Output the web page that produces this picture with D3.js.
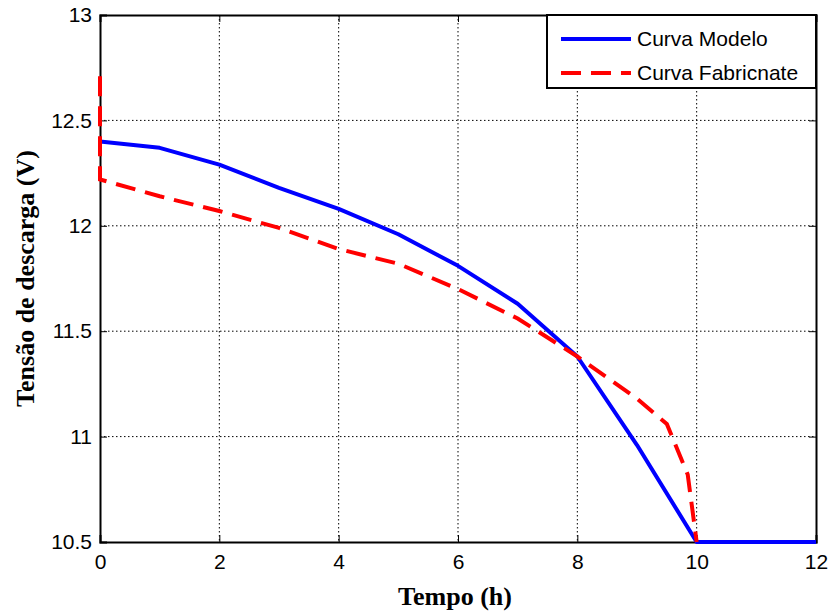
<!DOCTYPE html>
<html>
<head>
<meta charset="utf-8">
<script src="https://cdn.jsdelivr.net/npm/d3@7"></script>
<style>
body { margin: 0; background: #fff; }
svg text { font-family: 'Liberation Sans', Arial, sans-serif; }
</style>
</head>
<body>
<div id="chart"></div>
<script>
var modeloX = [0, 1, 2, 3, 4, 5, 6, 7, 8, 9, 10, 12];
var modeloY = [12.40, 12.37, 12.29, 12.18, 12.08, 11.96, 11.81, 11.63, 11.38, 10.96, 10.5, 10.5];
var fabX = [0, 0, 1, 2, 3, 4, 5, 6, 7, 8, 9, 9.5, 9.85, 10];
var fabY = [12.71, 12.22, 12.14, 12.07, 11.99, 11.89, 11.82, 11.70, 11.56, 11.38, 11.18, 11.06, 10.82, 10.5];
var xTicks = [0, 2, 4, 6, 8, 10, 12];
var yTicks = [10.5, 11, 11.5, 12, 12.5, 13];
var seriesNames = ["Curva Modelo", "Curva Fabricnate"];

var W = 833, H = 612;
var margin = {top: 15, right: 17, bottom: 70, left: 100};
var width = W - margin.left - margin.right;
var height = H - margin.top - margin.bottom;

var svg = d3.select("#chart").append("svg")
    .attr("width", W).attr("height", H);
var g = svg.append("g")
    .attr("transform", "translate(" + margin.left + "," + margin.top + ")");

var x = d3.scaleLinear().domain([0, 12]).range([0, width]);
var y = d3.scaleLinear().domain([10.5, 13]).range([height, 0]);

// grid
g.append("g").selectAll("line").data(xTicks.slice(1, -1)).enter().append("line")
    .attr("x1", d => x(d)).attr("x2", d => x(d))
    .attr("y1", 0).attr("y2", height)
    .attr("stroke", "#000").attr("stroke-width", 1).attr("stroke-dasharray", "1.5,2.5");
g.append("g").selectAll("line").data(yTicks.slice(1, -1)).enter().append("line")
    .attr("y1", d => y(d)).attr("y2", d => y(d))
    .attr("x1", 0).attr("x2", width)
    .attr("stroke", "#000").attr("stroke-width", 1).attr("stroke-dasharray", "1.5,2.5");

// axes (ticks inward, box)
var tickLen = 7;
var xAxis = g.append("g").attr("transform", "translate(0," + height + ")")
    .call(d3.axisBottom(x).tickValues(xTicks).tickSize(-tickLen).tickPadding(12));
var xAxisTop = g.append("g")
    .call(d3.axisTop(x).tickValues(xTicks).tickSize(-tickLen).tickFormat(""));
var yAxis = g.append("g")
    .call(d3.axisLeft(y).tickValues(yTicks).tickSize(-tickLen).tickPadding(8)
      .tickFormat(d3.format("")));
var yAxisRight = g.append("g").attr("transform", "translate(" + width + ",0)")
    .call(d3.axisRight(y).tickValues(yTicks).tickSize(-tickLen).tickFormat(""));

[xAxis, xAxisTop, yAxis, yAxisRight].forEach(function(a) {
  a.select(".domain").attr("stroke", "#000").attr("stroke-width", 2);
  a.selectAll(".tick line").attr("stroke", "#000").attr("stroke-width", 1);
  a.selectAll(".tick text").attr("fill", "#000").style("font-size", "21px")
    .style("font-family", "'Liberation Sans', Arial, sans-serif");
});

// lines
var lineGen = d3.line().x(d => x(d[0])).y(d => y(d[1]));
var modelo = modeloX.map((v, i) => [v, modeloY[i]]);
var fab = fabX.map((v, i) => [v, fabY[i]]);

g.append("path").datum(modelo).attr("d", lineGen)
    .attr("fill", "none").attr("stroke", "#0000ff").attr("stroke-width", 4)
    .attr("stroke-linejoin", "round");
g.append("path").datum(fab).attr("d", lineGen)
    .attr("fill", "none").attr("stroke", "#ff0000").attr("stroke-width", 4)
    .attr("stroke-dasharray", "20,10");

// axis labels
svg.append("text")
    .attr("x", 455).attr("y", 605)
    .attr("text-anchor", "middle")
    .style("font-family", "'Liberation Serif', 'Times New Roman', serif")
    .style("font-weight", "bold").style("font-size", "26px")
    .text("Tempo (h)");
svg.append("text")
    .attr("transform", "translate(34," + (margin.top + height / 2) + ") rotate(-90)")
    .attr("text-anchor", "middle")
    .style("font-family", "'Liberation Serif', 'Times New Roman', serif")
    .style("font-weight", "bold").style("font-size", "26px")
    .text("Tensão de descarga (V)");

// legend
var lg = svg.append("g").attr("transform", "translate(547,15)");
lg.append("rect").attr("width", 269).attr("height", 73)
    .attr("fill", "#fff").attr("stroke", "#000").attr("stroke-width", 2);
var colors = ["#0000ff", "#ff0000"];
var dashes = [null, "20,10"];
seriesNames.forEach(function(name, i) {
  var yy = 24 + i * 34;
  lg.append("line").attr("x1", 14).attr("x2", 84).attr("y1", yy).attr("y2", yy)
    .attr("stroke", colors[i]).attr("stroke-width", 4)
    .attr("stroke-dasharray", dashes[i]);
  lg.append("text").attr("x", 90).attr("y", yy).attr("dy", "0.35em")
    .style("font-size", "21px").attr("fill", "#000").text(name);
});
</script>
</body>
</html>
